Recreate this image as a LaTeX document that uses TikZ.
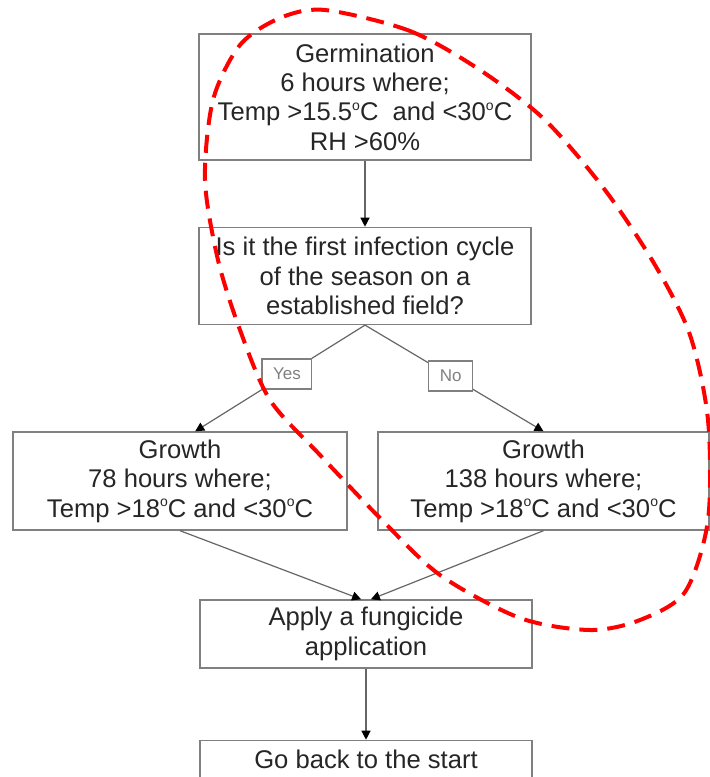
\documentclass[tikz,border=0pt]{standalone}
\usepackage{fontspec}
\setmainfont{Liberation Sans}
\usetikzlibrary{positioning,arrows.meta}
\newcommand{\degc}{\raisebox{0.75ex}{\fontsize{7}{7}\selectfont o}C}
\tikzset{
  basic/.style  = {draw=gray, line width=0.7pt, inner sep=0pt, align=center,
                   font=\fontsize{12.8}{14.7}\selectfont, text=black!85},
  stage/.style  = {basic, minimum width=166pt},
  tag/.style    = {draw=gray, fill=white, line width=0.6pt, inner xsep=5.5pt,
                   minimum height=15pt, font=\fontsize{8.5}{9}\selectfont, text=gray},
  link/.style   = {draw=black!60, line width=0.6pt,
                   -{Triangle[length=4.5pt,width=4.5pt,color=black]}},
  ring/.style   = {draw=red, line width=2pt, dash pattern=on 9pt off 5pt}
}

\begin{document}
\begin{tikzpicture}[x=0.5pt, y=-0.5pt]
\useasboundingbox (0,0) rectangle (710,777);

% top of the chart
\node[stage, minimum height=63pt] (germ) at (365,97)
  {Germination\\6 hours where;\\Temp >15.5\degc\ \ and <30\degc\\RH >60\%};
\node[stage, minimum height=48.5pt, below=33pt of germ] (quest)
  {Is it the first infection cycle\\of the season on a\\established field?};
% the two branches
\node[stage, minimum width=167pt, minimum height=49pt] (growL) at (180,481)
  {Growth\\78 hours where;\\Temp >18\degc\ and <30\degc};
\node[stage, minimum width=165.5pt, minimum height=49pt] (growR) at (543.5,481)
  {Growth\\138 hours where;\\Temp >18\degc\ and <30\degc};
% bottom of the chart
\node[stage, minimum height=34pt] (apply) at (366,634)
  {Apply a fungicide\\application};
\node[stage, text height=14pt, text depth=20pt, below=35.5pt of apply] (back)
  {Go back to the start};

\draw[link] (germ) -- (quest);
\draw[link] (quest.south) -- node[tag, pos=0.46] (yes) {Yes} (growL.73);
\draw[link] (quest.south) -- node[tag, pos=0.48] (no) {No} (growR.north);
\draw[link] (growL.south) -- (apply.98);
\draw[link] (growR.south) -- (apply.82);
\draw[link] (apply) -- (back);

% the red dashed loop
\draw[ring] plot[smooth cycle] coordinates {
  (325,10) (410,31) (480,70) (545,120) (605,190) (655,265) (690,335)
  (708,420) (708,520) (685,592) (640,620) (590,630) (520,618) (440,575)
  (380,518) (320,455) (270,400) (240,330) (218,260) (205,180) (213,100)
  (240,45) (280,18)};
\end{tikzpicture}
\end{document}
